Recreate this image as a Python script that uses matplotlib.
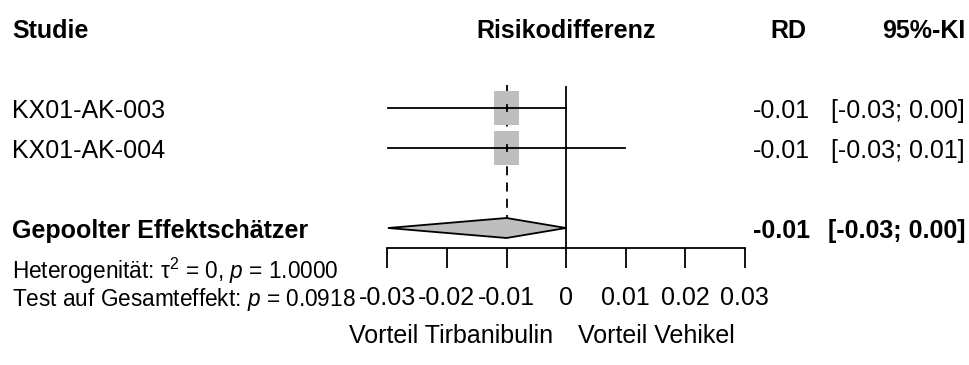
import matplotlib.pyplot as plt
import matplotlib.transforms as mtransforms
from matplotlib.patches import Polygon, Rectangle

plt.rcParams['font.family'] = ['Liberation Sans', 'DejaVu Sans']
plt.rcParams['mathtext.fontset'] = 'custom'
plt.rcParams['mathtext.rm'] = 'Liberation Sans'
plt.rcParams['mathtext.it'] = 'Liberation Sans:italic'

# data
studies = ["KX01-AK-003", "KX01-AK-004"]
rd = [-0.0100, -0.0100]
ci_low = [-0.0299, -0.0299]
ci_high = [0.0000, 0.0099]
rd_txt = ["-0.01", "-0.01"]
ci_txt = ["[-0.03; 0.00]", "[-0.03; 0.01]"]
pooled_rd = -0.0100
pooled_low = -0.0299
pooled_high = 0.0000
pooled_rd_txt = "-0.01"
pooled_ci_txt = "[-0.03; 0.00]"
xticks = [-0.03, -0.02, -0.01, 0, 0.01, 0.02, 0.03]
xticklabels = ["-0.03", "-0.02", "-0.01", "0", "0.01", "0.02", "0.03"]

W, H = 969, 365
fig = plt.figure(figsize=(W / 100, H / 100), dpi=100)
px0, px1 = 387.3, 744.9
ax = fig.add_axes([px0 / W, 0, (px1 - px0) / W, 1])
ax.set_xlim(-0.03, 0.03)
row_px = 40.0
y0_px = 108.0
ax.set_ylim((H - y0_px) / row_px, -y0_px / row_px)
ax.patch.set_alpha(0)

rows = [0, 1]
pooled_row = 3
axis_row = 3.5
fs = 18
fs2 = 16.3
off = 0.25  # baseline offset in rows

gray = "#bebebe"
# boxes
box_w = 25.3 / (px1 - px0) * 0.06
box_h = 33.5 / row_px
for r, m in zip(rows, rd):
    ax.add_patch(Rectangle((m - box_w / 2, r - box_h / 2), box_w, box_h,
                           facecolor=gray, edgecolor="none", zorder=2))
for r, lo, hi in zip(rows, ci_low, ci_high):
    ax.plot([lo, hi], [r, r], color="black", lw=1.3, zorder=3)
for r, m in zip(rows, rd):
    ax.plot([m, m], [r - 0.08, r + 0.08], color="black", lw=1.3, zorder=3)

# diamond
dh = 0.25
ax.add_patch(Polygon([[pooled_low, pooled_row], [pooled_rd, pooled_row - dh],
                      [pooled_high, pooled_row], [pooled_rd, pooled_row + dh]],
                     closed=True, facecolor=gray, edgecolor="black", lw=1.3, zorder=3))

# reference lines
ax.plot([0, 0], [-0.53, axis_row], color="black", lw=1.3, zorder=1)
ax.plot([pooled_rd, pooled_rd], [-0.58, pooled_row - dh], color="black", lw=1.3,
        linestyle=(0, (5, 4)), zorder=1)

# axis
for s in ["top", "left", "right"]:
    ax.spines[s].set_visible(False)
ax.spines["bottom"].set_position(("data", axis_row))
ax.spines["bottom"].set_bounds(-0.03, 0.03)
ax.spines["bottom"].set_linewidth(1.3)
ax.set_xticks(xticks)
ax.set_xticklabels(xticklabels)
ax.tick_params(axis="x", direction="out", length=14.5, width=1.3, pad=13, labelsize=fs)
ax.set_yticks([])

# text columns
tr = mtransforms.blended_transform_factory(fig.transFigure, ax.transData)
def fx(p):
    return p / W

ax.text(fx(12), -2 + off, "Studie", transform=tr, fontsize=fs, fontweight="bold",
        ha="left", va="baseline")
ax.text(0, -2 + off, "Risikodifferenz", fontsize=fs, fontweight="bold",
        ha="center", va="baseline")
ax.text(fx(806), -2 + off, "RD", transform=tr, fontsize=fs, fontweight="bold",
        ha="right", va="baseline")
ax.text(fx(965), -2 + off, "95%-KI", transform=tr, fontsize=fs, fontweight="bold",
        ha="right", va="baseline")

for r, name, a, b in zip(rows, studies, rd_txt, ci_txt):
    ax.text(fx(12), r + off, name, transform=tr, fontsize=fs, ha="left", va="baseline")
    ax.text(fx(810), r + off, a, transform=tr, fontsize=fs, ha="right", va="baseline")
    ax.text(fx(965), r + off, b, transform=tr, fontsize=fs, ha="right", va="baseline")

ax.text(fx(12), pooled_row + off, "Gepoolter Effektschätzer", transform=tr, fontsize=fs,
        fontweight="bold", ha="left", va="baseline")
ax.text(fx(810), pooled_row + off, pooled_rd_txt, transform=tr, fontsize=fs,
        fontweight="bold", ha="right", va="baseline")
ax.text(fx(965), pooled_row + off, pooled_ci_txt, transform=tr, fontsize=fs,
        fontweight="bold", ha="right", va="baseline")

ax.text(fx(12), 4.275, r"Heterogenität: τ$^2$ = 0, $p$ = 1.0000", transform=tr,
        fontsize=fs2, ha="left", va="baseline")
ax.text(fx(12), 4.95, r"Test auf Gesamteffekt: $p$ = 0.0918", transform=tr,
        fontsize=fs2, ha="left", va="baseline")

ax.text(-0.0022, 5.875, "Vorteil Tirbanibulin", fontsize=fs, ha="right", va="baseline")
ax.text(0.0020, 5.875, "Vorteil Vehikel", fontsize=fs, ha="left", va="baseline")

fig.savefig("out.png", dpi=100)
